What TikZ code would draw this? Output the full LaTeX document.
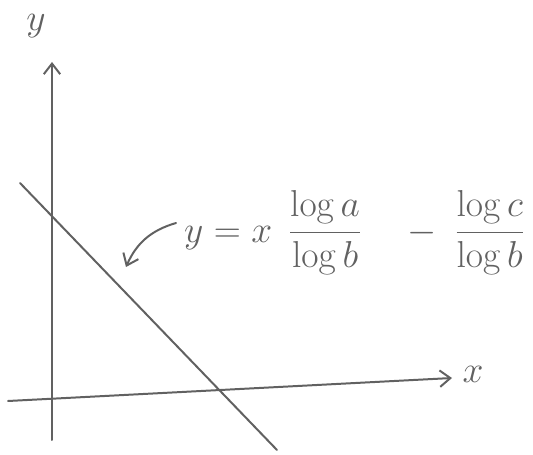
\documentclass[tikz,border=0pt]{standalone}
\usepackage{fix-cm}
\usepackage{amsmath}
\usepackage{tikz}
\usetikzlibrary{arrows.meta,calc}
\definecolor{pencil}{gray}{0.38}
\tikzset{
  sketch/.style={pencil, line width=1.7pt, line cap=round},
  tip/.style={-{Straight Barb[length=9pt,width=14pt,line width=1.7pt]}},
  lbl/.style={pencil, font=\fontsize{32}{36}\selectfont},
  eqn/.style={pencil, font=\fontsize{32}{36}\selectfont}
}
\begin{document}
\begin{tikzpicture}[x=0.03cm,y=-0.03cm]
\useasboundingbox (0,0) rectangle (533,455);
% axes
\coordinate (ybot) at (52,440);
\coordinate (ytop) at (52,62);
\coordinate (xleft) at (8,401);
\coordinate (xright) at (452,378);
\draw[sketch,tip] (ybot) -- (ytop);
\draw[sketch,tip] (xleft) -- (xright);
\node[lbl] (ylab) at (36,26) {$y$};
\node[lbl] (xlab) at (473,374) {$x$};
% the line
\coordinate (lstart) at (20,183);
\coordinate (lend) at (277,450);
\draw[sketch] (lstart) -- (lend);
% equation
\node[eqn, anchor=west, inner sep=0pt] (eq) at (184,233)
  {$y = x\;\,\dfrac{\log a}{\log b}\quad-\;\dfrac{\log c}{\log b}$};
\coordinate (ptr) at (126,267);
\draw[sketch,tip] ($(eq.west)+(-8,-10)$) to[bend right=25] (ptr);
\end{tikzpicture}
\end{document}
